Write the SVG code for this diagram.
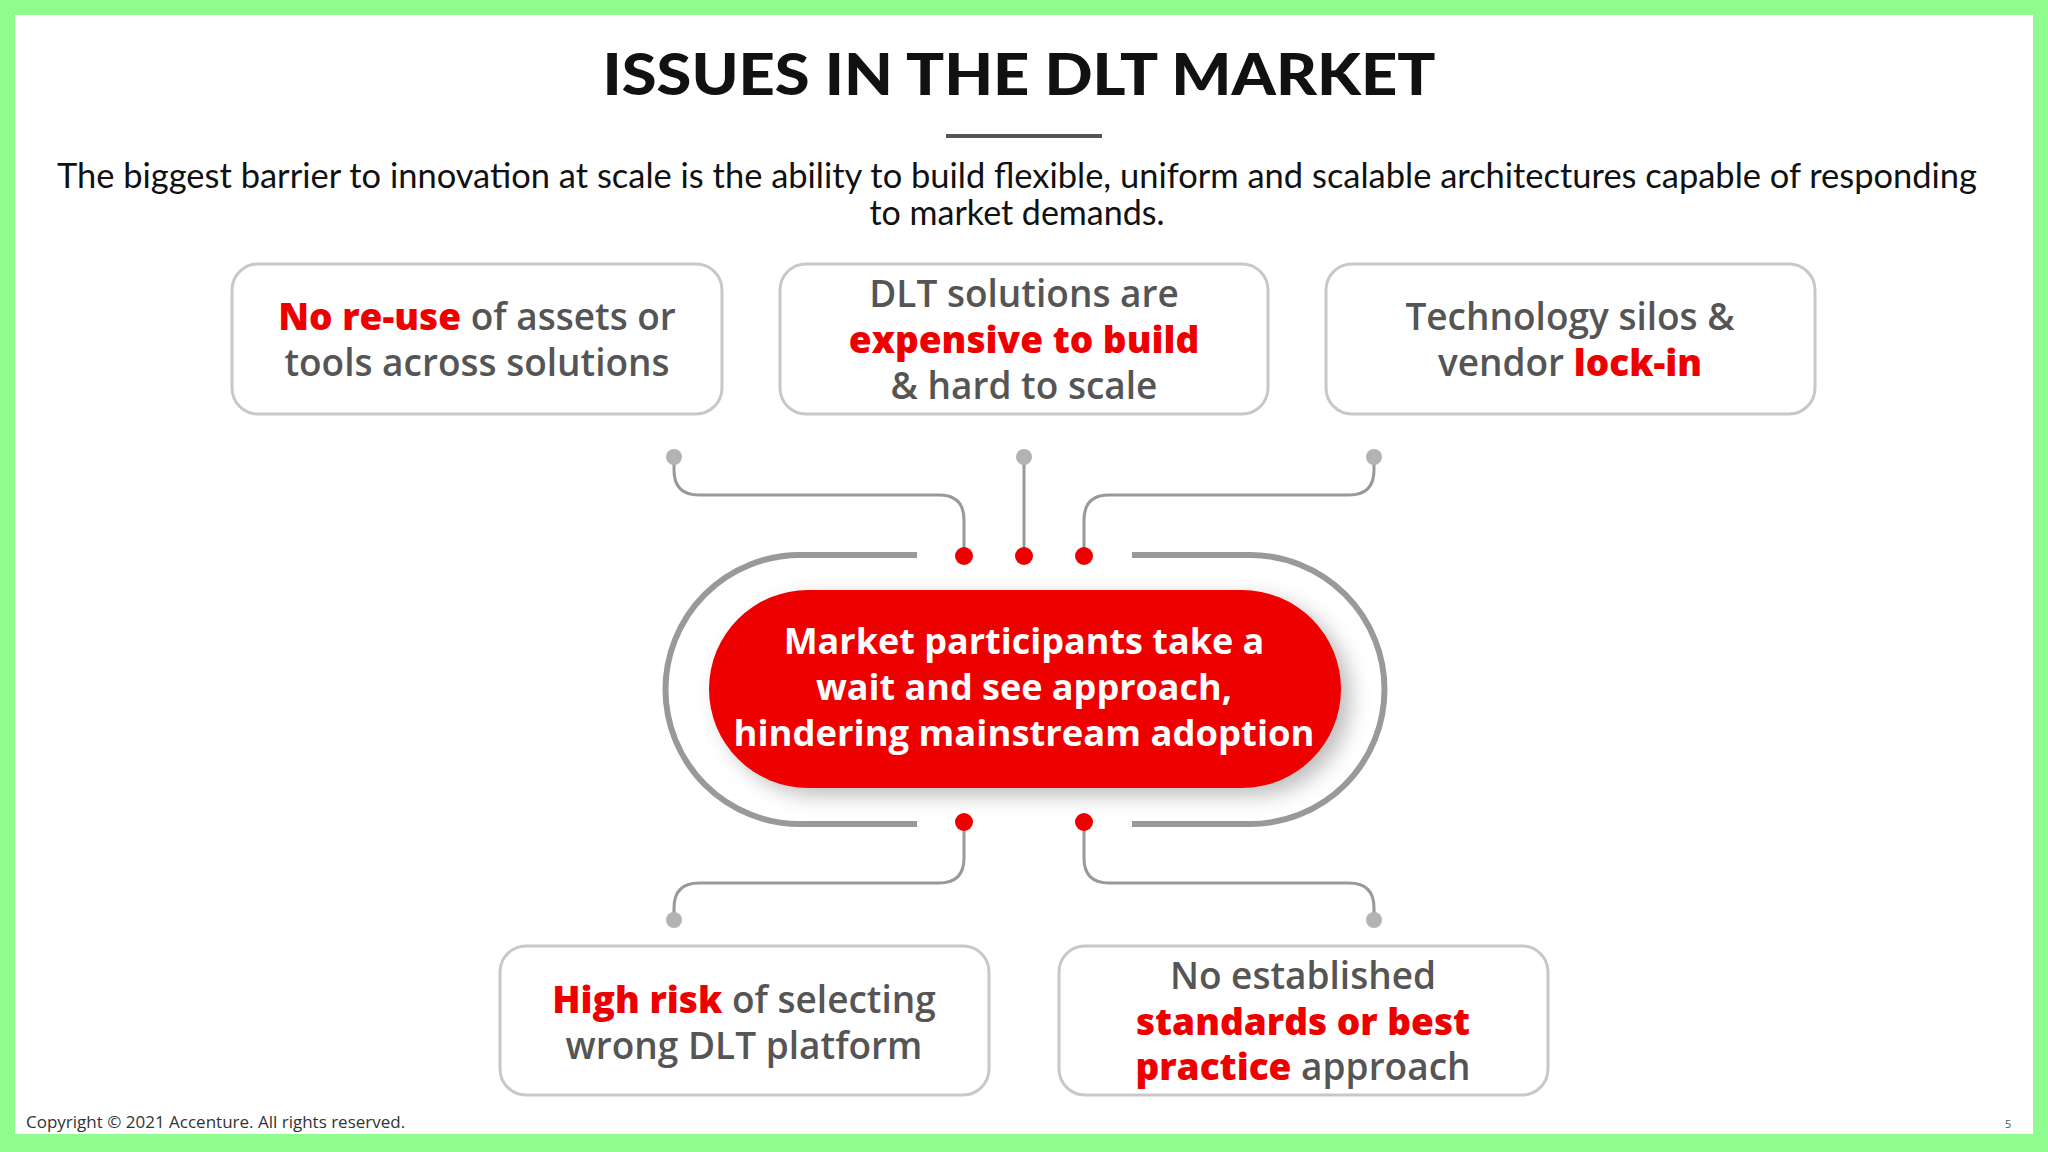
<svg xmlns="http://www.w3.org/2000/svg" width="2048" height="1152" viewBox="0 0 2048 1152">
<defs>
<style>
.box{fill:#fff;stroke:#c8c8c8;stroke-width:3}
.bt{font-family:"Open Sans","Liberation Sans",sans-serif;font-weight:600;font-size:37px;fill:#555;text-anchor:middle}
.r{fill:#ee0000;font-weight:800}
.con{fill:none;stroke:#999;stroke-width:3}
.gd{fill:#b3b3b3}
.rd{fill:#ee0000}
</style>
<filter id="sh" x="-20%" y="-30%" width="140%" height="160%"><feDropShadow dx="10" dy="8" stdDeviation="10" flood-color="#000" flood-opacity="0.25"/></filter>
</defs>
<rect x="0" y="0" width="2048" height="1152" fill="#8efc8e"/>
<rect x="15" y="15" width="2018" height="1119" fill="#fff"/>
<text x="1019" y="95" font-family="Lato,'Liberation Sans',sans-serif" font-weight="900" font-size="58" text-anchor="middle" fill="#111" textLength="833" lengthAdjust="spacingAndGlyphs">ISSUES IN THE DLT MARKET</text>
<line x1="946" y1="136" x2="1102" y2="136" stroke="#555" stroke-width="4"/>
<g font-family="Lato,'Liberation Sans',sans-serif" font-size="34" fill="#111" text-anchor="middle">
<text x="1017" y="188" textLength="1920" lengthAdjust="spacingAndGlyphs">The biggest barrier to innovation at scale is the ability to build flexible, uniform and scalable architectures capable of responding</text>
<text x="1017" y="225">to market demands.</text>
</g>
<g id="connectors">
<path class="con" d="M674,457 V470 Q674,495 699,495 H939 Q964,495 964,520 V556"/>
<path class="con" d="M1024,457 V556"/>
<path class="con" d="M1374,457 V470 Q1374,495 1349,495 H1109 Q1084,495 1084,520 V556"/>
<path class="con" d="M964,822 V858 Q964,883 939,883 H699 Q674,883 674,908 V920"/>
<path class="con" d="M1084,822 V858 Q1084,883 1109,883 H1349 Q1374,883 1374,908 V920"/>
<circle class="gd" cx="674" cy="457" r="8"/><circle class="gd" cx="1024" cy="457" r="8"/><circle class="gd" cx="1374" cy="457" r="8"/>
<circle class="gd" cx="674" cy="920" r="8"/><circle class="gd" cx="1374" cy="920" r="8"/>
</g>
<g id="center">
<path d="M917,555 H800 A134.5,134.5 0 0 0 800,824 H917" fill="none" stroke="#999" stroke-width="6"/>
<path d="M1132,555 H1250 A134.5,134.5 0 0 1 1250,824 H1132" fill="none" stroke="#999" stroke-width="6"/>
<rect x="709" y="590" width="632" height="198" rx="99" fill="#ee0000" filter="url(#sh)"/>
<g font-family="'Open Sans','Liberation Sans',sans-serif" font-weight="700" font-size="36" fill="#fff" text-anchor="middle">
<text x="1024" y="654">Market participants take a</text>
<text x="1024" y="700">wait and see approach,</text>
<text x="1024" y="746" textLength="581" lengthAdjust="spacingAndGlyphs">hindering mainstream adoption</text>
</g>
<circle class="rd" cx="964" cy="556" r="9"/><circle class="rd" cx="1024" cy="556" r="9"/><circle class="rd" cx="1084" cy="556" r="9"/>
<circle class="rd" cx="964" cy="822" r="9"/><circle class="rd" cx="1084" cy="822" r="9"/>
</g>
<g id="box1"><rect class="box" x="232" y="264" width="490" height="150" rx="26"/>
<text class="bt" x="477" y="330"><tspan class="r">No re-use</tspan> of assets or</text>
<text class="bt" x="477" y="376">tools across solutions</text></g>
<g id="box2"><rect class="box" x="780" y="264" width="488" height="150" rx="26"/>
<text class="bt" x="1024" y="307">DLT solutions are</text>
<text class="bt" x="1024" y="353"><tspan class="r">expensive to build</tspan></text>
<text class="bt" x="1024" y="399">&amp; hard to scale</text></g>
<g id="box3"><rect class="box" x="1326" y="264" width="489" height="150" rx="26"/>
<text class="bt" x="1570" y="330">Technology silos &amp;</text>
<text class="bt" x="1570" y="376">vendor <tspan class="r">lock-in</tspan></text></g>
<g id="box4"><rect class="box" x="500" y="946" width="489" height="149" rx="26"/>
<text class="bt" x="744" y="1013"><tspan class="r">High risk</tspan> of selecting</text>
<text class="bt" x="744" y="1059">wrong DLT platform</text></g>
<g id="box5"><rect class="box" x="1059" y="946" width="489" height="149" rx="26"/>
<text class="bt" x="1303" y="989">No established</text>
<text class="bt" x="1303" y="1035"><tspan class="r">standards or best</tspan></text>
<text class="bt" x="1303" y="1080"><tspan class="r">practice</tspan> approach</text></g>
<text x="26" y="1128" font-family="'Open Sans','Liberation Sans',sans-serif" font-size="17" fill="#333">Copyright © 2021 Accenture. All rights reserved.</text>
<text x="2005" y="1128" font-family="'Open Sans','Liberation Sans',sans-serif" font-size="11" fill="#555">5</text>
</svg>
